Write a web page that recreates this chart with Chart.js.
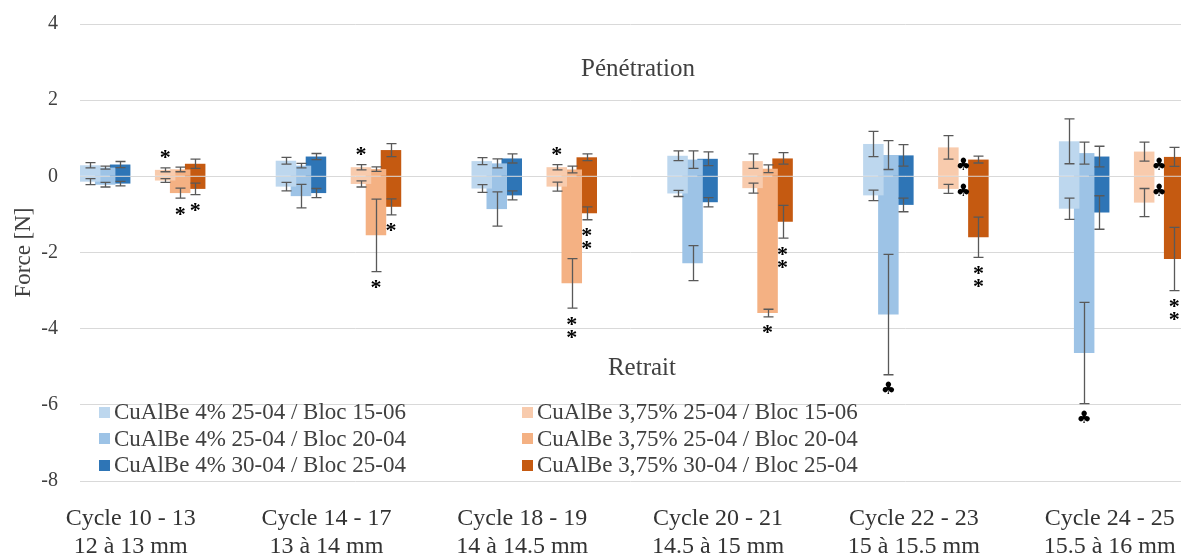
<!DOCTYPE html>
<html lang="fr">
<head>
<meta charset="utf-8">
<title>Force - pénétration / retrait</title>
<script src="https://cdn.jsdelivr.net/npm/chart.js@4.4.1/dist/chart.umd.min.js"></script>
<style>
  html, body { margin: 0; padding: 0; background: #fff; overflow: hidden; }
  #wrap { position: relative; width: 1181px; height: 555px; }
  #legend {
    position: absolute; left: 99px; top: 399px;
    display: grid; grid-auto-flow: column;
    grid-template-columns: 423px auto; grid-template-rows: repeat(3, 26.5px);
    font: 23px "Liberation Serif", serif; color: #404040;
  }
  .item { display: flex; align-items: center; white-space: nowrap; }
  .swatch { width: 11px; height: 11px; margin-right: 4px; flex: none; }
</style>
</head>
<body>
<div id="wrap">
  <canvas id="forceChart"></canvas>
  <div id="legend"></div>
</div>
<script>
// categories (x axis, two lines each)
const categories = [
  ['Cycle 10 - 13', '12 à 13 mm'],
  ['Cycle 14 - 17', '13 à 14 mm'],
  ['Cycle 18 - 19', '14 à 14.5 mm'],
  ['Cycle 20 - 21', '14.5 à 15 mm'],
  ['Cycle 22 - 23', '15 à 15.5 mm'],
  ['Cycle 24 - 25', '15.5 à 16 mm']
];

const seriesNames = [
  'CuAlBe 4% 25-04 / Bloc 15-06',
  'CuAlBe 4% 25-04 / Bloc 20-04',
  'CuAlBe 4% 30-04 / Bloc 25-04',
  'CuAlBe 3,75% 25-04 / Bloc 15-06',
  'CuAlBe 3,75% 25-04 / Bloc 20-04',
  'CuAlBe 3,75% 30-04 / Bloc 25-04'
];
const seriesColors = ['#bdd7ee', '#9dc3e6', '#2e75b6', '#f8cbad', '#f4b183', '#c55a11'];

const yTicks = [-8, -6, -4, -2, 0, 2, 4];

// Pénétration : mean force (N) and error
const pen1 = [0.29, 0.41, 0.40, 0.54, 0.85, 0.92];
const pen2 = [0.23, 0.28, 0.34, 0.44, 0.56, 0.61];
const pen3 = [0.31, 0.52, 0.47, 0.46, 0.55, 0.52];
const pen4 = [0.17, 0.24, 0.24, 0.40, 0.76, 0.65];
const pen5 = [0.18, 0.19, 0.18, 0.20, null, null];
const pen6 = [0.33, 0.69, 0.50, 0.47, 0.44, 0.51];

const penErr1 = [0.07, 0.09, 0.09, 0.13, 0.33, 0.59];
const penErr2 = [0.04, 0.06, 0.12, 0.23, 0.38, 0.29];
const penErr3 = [0.08, 0.08, 0.12, 0.18, 0.28, 0.27];
const penErr4 = [0.05, 0.07, 0.07, 0.19, 0.31, 0.25];
const penErr5 = [0.06, 0.06, 0.09, 0.10, null, null];
const penErr6 = [0.12, 0.17, 0.09, 0.15, 0.09, 0.25];

// Retrait : mean force (N) and error
const ret1 = [-0.14, -0.27, -0.32, -0.45, -0.50, -0.85];
const ret2 = [-0.22, -0.52, -0.86, -2.28, -3.63, -4.64];
const ret3 = [-0.19, -0.44, -0.50, -0.68, -0.75, -0.95];
const ret4 = [-0.11, -0.20, -0.27, -0.31, -0.33, -0.69];
const ret5 = [-0.44, -1.55, -2.81, -3.59, null, null];
const ret6 = [-0.33, -0.80, -0.97, -1.19, -1.60, -2.17];

const retErr1 = [0.08, 0.11, 0.10, 0.08, 0.14, 0.28];
const retErr2 = [0.06, 0.31, 0.45, 0.46, 1.58, 1.33];
const retErr3 = [0.06, 0.12, 0.12, 0.12, 0.18, 0.44];
const retErr4 = [0.05, 0.08, 0.12, 0.13, 0.12, 0.37];
const retErr5 = [0.13, 0.95, 0.65, 0.10, null, null];
const retErr6 = [0.15, 0.21, 0.17, 0.43, 0.53, 0.83];

// significance marks: [series, side, category, symbol]
const marks = [
  [3, 'pen', 0, '*'], [4, 'ret', 0, '*'], [5, 'ret', 0, '*'],
  [3, 'pen', 1, '*'], [4, 'ret', 1, '*'], [5, 'ret', 1, '*'],
  [3, 'pen', 2, '*'], [4, 'ret', 2, '**'], [5, 'ret', 2, '**'],
  [4, 'ret', 3, '*'], [5, 'ret', 3, '**'],
  [1, 'ret', 4, '♣'], [4, 'pen', 4, '♣'], [4, 'ret', 4, '♣'], [5, 'ret', 4, '**'],
  [1, 'ret', 5, '♣'], [4, 'pen', 5, '♣'], [4, 'ret', 5, '♣'], [5, 'ret', 5, '**']
];

const sectionLabels = [
  { text: 'Pénétration', x: 2.53, y: 2.8 },
  { text: 'Retrait', x: 2.55, y: -5.05 }
];

const penMeans = [pen1, pen2, pen3, pen4, pen5, pen6];
const penErrs = [penErr1, penErr2, penErr3, penErr4, penErr5, penErr6];
const retMeans = [ret1, ret2, ret3, ret4, ret5, ret6];
const retErrs = [retErr1, retErr2, retErr3, retErr4, retErr5, retErr6];

const SERIF = '"Liberation Serif", "Times New Roman", serif';

// one slot per series: pénétration stacks up, retrait stacks down in the same slot
function buildSide(means, errs, side) {
  const sets = means.map((values, s) => ({
    label: seriesNames[s],
    data: values,
    err: errs[s],
    side: side,
    series: s,
    stack: 'serie' + s,
    backgroundColor: seriesColors[s]
  }));
  // two empty slots between the 4% and the 3,75% groups
  const spacers = ['gapA', 'gapB'].map(g => ({ label: '', data: [], stack: g, spacer: true }));
  return [...sets.slice(0, 3), ...spacers, ...sets.slice(3)];
}

const datasets = [
  ...buildSide(penMeans, penErrs, 'pen'),
  ...buildSide(retMeans, retErrs, 'ret')
];

function findBar(chart, series, side, cat) {
  const idx = chart.data.datasets.findIndex(d => d.series === series && d.side === side);
  return { ds: chart.data.datasets[idx], bar: chart.getDatasetMeta(idx).data[cat] };
}

// error bars
const errorBars = {
  id: 'errorBars',
  afterDatasetsDraw(chart) {
    const ctx = chart.ctx;
    const y = chart.scales.y;
    ctx.save();
    ctx.strokeStyle = '#595959';
    ctx.lineWidth = 1.3;
    chart.data.datasets.forEach((ds, i) => {
      if (!ds.err) return;
      chart.getDatasetMeta(i).data.forEach((bar, j) => {
        const v = ds.data[j], e = ds.err[j];
        if (v == null || e == null) return;
        const x = Math.round(bar.x) + 0.5;
        const top = y.getPixelForValue(v + e);
        const bot = y.getPixelForValue(v - e);
        ctx.beginPath();
        ctx.moveTo(x, top); ctx.lineTo(x, bot);
        ctx.moveTo(x - 5, top); ctx.lineTo(x + 5, top);
        ctx.moveTo(x - 5, bot); ctx.lineTo(x + 5, bot);
        ctx.stroke();
      });
    });
    ctx.restore();
  }
};

// * / ** / ♣ marks and the Pénétration / Retrait captions
const annotations = {
  id: 'annotations',
  afterDatasetsDraw(chart) {
    const ctx = chart.ctx;
    const xs = chart.scales.x, y = chart.scales.y;
    ctx.save();
    ctx.textAlign = 'center';
    ctx.textBaseline = 'alphabetic';
    ctx.fillStyle = '#000';

    marks.forEach(([s, side, cat, sym]) => {
      const { ds, bar } = findBar(chart, s, side, cat);
      const v = ds.data[cat], e = ds.err[cat];
      const dir = side === 'pen' ? -1 : 1;
      let yPos;
      if (v == null) {
        yPos = y.getPixelForValue(0) + dir * 13;
      } else {
        yPos = y.getPixelForValue(v - dir * e) + dir * 13;
      }
      const glyphs = sym === '**' ? ['*', '*'] : [sym];
      ctx.font = sym === '♣' ? '17px "DejaVu Sans", sans-serif' : 'bold 22px ' + SERIF;
      glyphs.forEach((g, k) => {
        const m = ctx.measureText(g);
        const cy = yPos + dir * k * 13;
        ctx.fillText(g, bar.x, cy + (m.actualBoundingBoxAscent - m.actualBoundingBoxDescent) / 2);
      });
    });

    ctx.fillStyle = '#404040';
    ctx.font = '25px ' + SERIF;
    ctx.textBaseline = 'middle';
    sectionLabels.forEach(l => {
      ctx.fillText(l.text, xs.getPixelForValue(l.x), y.getPixelForValue(l.y));
    });
    ctx.restore();
  }
};

// horizontal mapping: one unit per category, chart area from 80px to the right edge
const xMin = -0.32, xMax = 5.303;

const ctx = document.getElementById('forceChart').getContext('2d');
new Chart(ctx, {
  type: 'bar',
  data: {
    labels: categories.map((c, i) => i),
    datasets: datasets
  },
  options: {
    responsive: true,
    maintainAspectRatio: false,
    animation: false,
    events: [],
    layout: { padding: { top: 24, right: 0, bottom: 0, left: 0 } },
    datasets: {
      bar: { categoryPercentage: 0.613, barPercentage: 1.367, borderWidth: 0 }
    },
    plugins: {
      legend: { display: false },
      tooltip: { enabled: false }
    },
    scales: {
      x: {
        type: 'linear', min: xMin, max: xMax, offset: false,
        grid: { display: false },
        border: { display: false },
        ticks: {
          stepSize: 1, includeBounds: false, autoSkip: false, maxRotation: 0,
          labelOffset: -12, padding: 16, color: '#333',
          font: { family: SERIF, size: 24, lineHeight: 1.15 },
          callback: (value) => categories[value]
        },
        afterFit: (scale) => { scale.height = 74; scale.paddingLeft = 0; scale.paddingRight = 0; }
      },
      y: {
        min: yTicks[0], max: yTicks[yTicks.length - 1],
        grid: { color: '#d9d9d9', drawTicks: false },
        border: { display: false },
        ticks: {
          stepSize: 2, padding: 22, color: '#404040',
          font: { family: SERIF, size: 20 }
        },
        title: {
          display: true, text: 'Force [N]', color: '#404040',
          font: { family: SERIF, size: 23 }, padding: { top: 10, bottom: 0 }
        },
        afterFit: (scale) => { scale.width = 80; scale.paddingTop = 0; scale.paddingBottom = 0; }
      }
    }
  },
  plugins: [errorBars, annotations]
});

// legend
const legend = document.getElementById('legend');
seriesNames.forEach((name, s) => {
  const item = document.createElement('div');
  item.className = 'item';
  const sw = document.createElement('span');
  sw.className = 'swatch';
  sw.style.background = seriesColors[s];
  item.appendChild(sw);
  item.appendChild(document.createTextNode(name));
  legend.appendChild(item);
});
</script>
</body>
</html>
